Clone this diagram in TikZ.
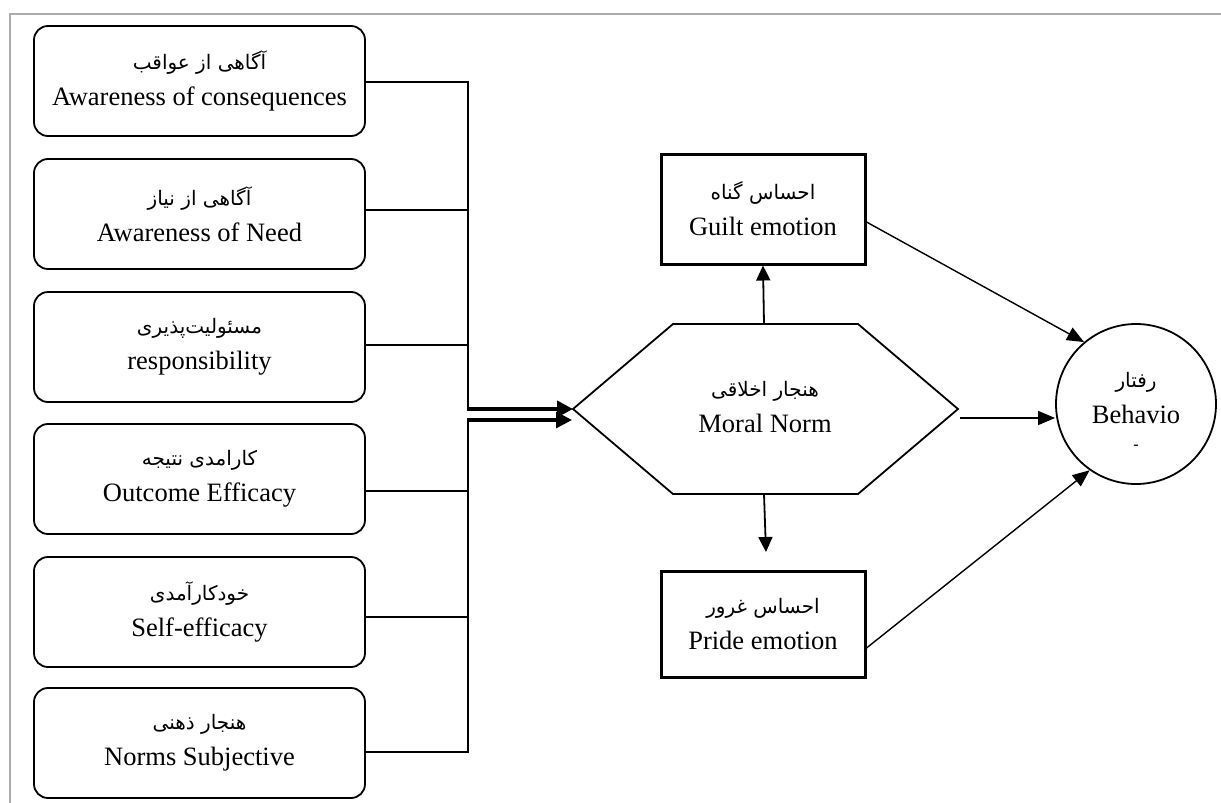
\documentclass[tikz,border=0pt]{standalone}
\usepackage{fontspec}
\setmainfont{Liberation Serif}
\newfontfamily\arabicfont[Script=Arabic]{DejaVu Sans}
\TeXXeTstate=1
\usetikzlibrary{arrows.meta,calc}
\newcommand\fa[1]{{\arabicfont\fontsize{20}{36}\selectfont\beginR #1\endR}}
\begin{document}
\begin{tikzpicture}[x=1pt,y=-1pt,
  txt/.style={align=center, font=\fontsize{26.5}{36}\selectfont, inner sep=0pt},
  lbox/.style={txt, draw, line width=1.8pt, rounded corners=14pt, minimum width=331pt, minimum height=110pt},
  ebox/.style={txt, draw, line width=3pt, minimum width=204pt, minimum height=108pt},
  conn/.style={line width=1.8pt},
  bundle/.style={-{Triangle[length=16pt,width=16pt]}},
  arr/.style={line width=1.4pt, -{Triangle[length=17pt,width=14pt]}},
  varr/.style={line width=1.8pt, -{Triangle[length=15pt,width=14pt]}}
]
\useasboundingbox (0,0) rectangle (1221,803);
\draw[gray!65, line width=2pt] (10,803) -- (10,14) -- (1221,14);

% left boxes
\node[lbox] (b1) at (199.5,81)  {\fa{آگاهی از عواقب}\\Awareness of consequences};
\node[lbox] (b2) at (199.5,214) {\fa{آگاهی از نیاز}\\Awareness of Need};
\node[lbox] (b3) at (199.5,347) {\fa{مسئولیت‌پذیری}\\responsibility};
\node[lbox] (b4) at (199.5,479) {\fa{کارامدی نتیجه}\\Outcome Efficacy};
\node[lbox] (b5) at (199.5,612) {\fa{خودکارآمدی}\\Self-efficacy};
\node[lbox] (b6) at (199.5,743) {\fa{هنجار ذهنی}\\Norms Subjective};

% hexagon
\coordinate (hl) at (573,409);
\coordinate (htl) at (673,324);
\coordinate (htr) at (858,324);
\coordinate (hr) at (958,409);
\coordinate (hbr) at (858,494);
\coordinate (hbl) at (673,494);
\coordinate (ht) at (764,324);
\coordinate (hb) at (764,494);
\draw[line width=1.8pt, line join=miter] (hl) -- (htl) -- (htr) -- (hr) -- (hbr) -- (hbl) -- cycle;
\node[txt] (mn) at (765,407) {\fa{هنجار اخلاقی}\\Moral Norm};

% emotion boxes
\node[ebox, minimum height=110pt] (g) at (763,209) {\fa{احساس گناه}\\Guilt emotion};
\node[ebox, minimum height=106pt] (p) at (763,624) {\fa{احساس غرور}\\Pride emotion};

% behavior circle
\node[draw, circle, line width=1.8pt, minimum size=160pt, inner sep=0pt] (bh) at (1136,404) {};
\node[txt] at (1136,398) {\fa{رفتار}\\Behavio};
\node[font=\fontsize{16}{16}\selectfont, inner sep=0pt] at (1136,447) {-};

% junction coordinates
\coordinate (j1) at (468,409);
\coordinate (j2) at (468,420);
\coordinate (t2) at (572,420);

% connectors from left boxes
\draw[conn] ([yshift=-1pt]b1.east) -| ([yshift=1pt]j1);
\draw[conn] ([yshift=4pt]b2.east) -- ([yshift=4pt]b2.east -| j1);
\draw[conn] ([yshift=2pt]b3.east) -- ([yshift=2pt]b3.east -| j1);
\draw[conn] ([yshift=-9pt]b6.east) -| ([yshift=-1pt]j2);
\draw[conn] ([yshift=-12pt]b4.east) -- ([yshift=-12pt]b4.east -| j2);
\draw[conn] ([yshift=-5pt]b5.east) -- ([yshift=-5pt]b5.east -| j2);
\draw[bundle, line width=4pt] ([xshift=-1pt]j1) -- (hl);
\draw[bundle, line width=3.2pt] ([xshift=-1pt]j2) -- (t2);

% hexagon to emotions
\draw[varr] (ht) -- (g.south);
\coordinate (pe) at (766,552);
\draw[varr] (hb) -- (pe);

% to behavior
\coordinate (hro) at (960,418);
\draw[arr] ([yshift=-13pt]g.east) -- (bh.130);
\draw[arr] (hro) -- (hro -| bh.west);
\draw[arr] ([yshift=-24pt]p.east) -- (bh.235);
\end{tikzpicture}
\end{document}
